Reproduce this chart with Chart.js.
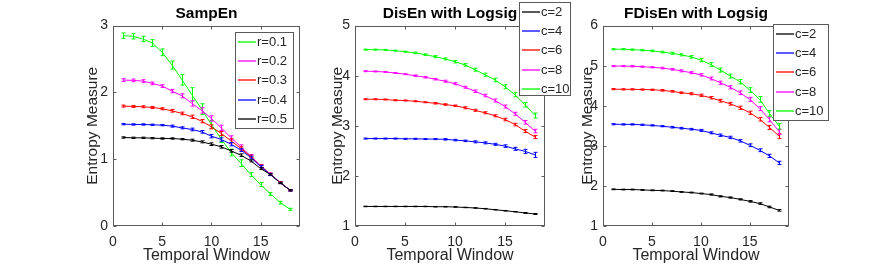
<!DOCTYPE html>
<html><head><meta charset="utf-8">
<script src="https://cdn.jsdelivr.net/npm/chart.js@4/dist/chart.umd.min.js"></script>
<style>
html,body{margin:0;padding:0;background:#fff;width:872px;height:273px;overflow:hidden}
canvas{position:absolute;top:0}
</style></head><body>
<canvas id="c1" width="288" height="273" style="left:60px"></canvas>
<canvas id="c2" width="276" height="273" style="left:300px"></canvas>
<canvas id="c3" width="292" height="273" style="left:540px"></canvas>
<script>
// ---------- data ----------
const windows = [1,2,3,4,5,6,7,8,9,10,11,12,13,14,15,16,17,18];
const xTicks = [0,5,10,15];

const sampLabels = ['r=0.1','r=0.2','r=0.3','r=0.4','r=0.5'];
const sampR01 = [2.85,2.84,2.80,2.74,2.60,2.41,2.19,1.97,1.75,1.52,1.30,1.10,0.94,0.77,0.62,0.48,0.35,0.25];
const sampR02 = [2.185,2.18,2.17,2.135,2.095,2.02,1.95,1.835,1.73,1.61,1.47,1.32,1.185,1.045,0.90,0.775,0.65,0.535];
const sampR03 = [1.795,1.79,1.785,1.775,1.755,1.725,1.685,1.635,1.57,1.485,1.385,1.275,1.16,1.04,0.895,0.775,0.65,0.535];
const sampR04 = [1.525,1.52,1.52,1.515,1.51,1.495,1.47,1.445,1.41,1.345,1.295,1.225,1.135,1.025,0.89,0.77,0.645,0.535];
const sampR05 = [1.325,1.32,1.32,1.315,1.31,1.31,1.30,1.285,1.26,1.225,1.185,1.125,1.06,0.975,0.86,0.77,0.645,0.535];
const sampErrR01 = [0.04,0.04,0.04,0.05,0.05,0.06,0.08,0.10,0.08,0.06,0.05,0.05,0.05,0.03,0.03,0.02,0.02,0.015];
const sampErrR02 = [0.02,0.02,0.02,0.02,0.02,0.025,0.03,0.04,0.04,0.04,0.04,0.03,0.03,0.025,0.02,0.02,0.015,0.01];
const sampErrR03 = [0.015,0.015,0.015,0.015,0.015,0.02,0.02,0.025,0.025,0.03,0.03,0.03,0.025,0.02,0.02,0.015,0.015,0.01];
const sampErrR04 = [0.01,0.01,0.01,0.01,0.01,0.015,0.015,0.02,0.02,0.025,0.025,0.025,0.02,0.02,0.015,0.015,0.01,0.01];
const sampErrR05 = [0.01,0.01,0.01,0.01,0.01,0.01,0.01,0.015,0.015,0.02,0.02,0.02,0.02,0.015,0.015,0.01,0.01,0.01];

const cLabels = ['c=2','c=4','c=6','c=8','c=10'];
const disC2  = [1.39,1.39,1.39,1.39,1.39,1.39,1.39,1.385,1.385,1.38,1.37,1.36,1.345,1.325,1.305,1.285,1.26,1.24];
const disC4  = [2.745,2.745,2.745,2.745,2.74,2.74,2.735,2.735,2.73,2.715,2.70,2.68,2.66,2.63,2.595,2.54,2.49,2.42];
const disC6  = [3.53,3.53,3.525,3.51,3.505,3.49,3.47,3.45,3.425,3.40,3.36,3.31,3.26,3.20,3.125,3.025,2.895,2.775];
const disC8  = [4.09,4.085,4.075,4.055,4.03,4.00,3.97,3.93,3.89,3.84,3.77,3.69,3.605,3.505,3.385,3.24,3.07,2.895];
const disC10 = [4.52,4.52,4.515,4.50,4.48,4.455,4.42,4.38,4.335,4.28,4.215,4.12,4.02,3.915,3.78,3.62,3.42,3.205];
const disErrC2  = [0.005,0.005,0.005,0.005,0.005,0.005,0.005,0.005,0.005,0.005,0.005,0.005,0.005,0.005,0.005,0.005,0.008,0.01];
const disErrC4  = [0.01,0.01,0.01,0.01,0.01,0.01,0.01,0.01,0.015,0.015,0.015,0.02,0.02,0.02,0.025,0.03,0.04,0.05];
const disErrC6  = [0.01,0.01,0.01,0.01,0.01,0.01,0.01,0.015,0.015,0.015,0.02,0.02,0.02,0.02,0.025,0.025,0.03,0.03];
const disErrC8  = [0.01,0.01,0.01,0.01,0.01,0.015,0.015,0.015,0.02,0.02,0.02,0.025,0.025,0.03,0.03,0.03,0.035,0.035];
const disErrC10 = [0.01,0.01,0.01,0.01,0.01,0.015,0.015,0.02,0.02,0.025,0.025,0.03,0.03,0.035,0.04,0.04,0.045,0.05];

const fdisC2  = [1.915,1.91,1.91,1.90,1.89,1.885,1.87,1.85,1.835,1.81,1.785,1.74,1.71,1.665,1.615,1.56,1.475,1.39];
const fdisC4  = [3.54,3.535,3.535,3.525,3.51,3.49,3.465,3.44,3.415,3.385,3.325,3.265,3.21,3.125,3.015,2.89,2.75,2.575];
const fdisC6  = [4.415,4.41,4.41,4.405,4.40,4.385,4.36,4.325,4.30,4.26,4.20,4.125,4.05,3.95,3.825,3.665,3.46,3.24];
const fdisC8  = [4.99,4.99,4.985,4.975,4.96,4.94,4.91,4.87,4.825,4.77,4.68,4.575,4.46,4.325,4.16,3.93,3.66,3.35];
const fdisC10 = [5.41,5.41,5.40,5.385,5.37,5.34,5.31,5.27,5.22,5.14,5.03,4.89,4.74,4.60,4.39,4.16,3.81,3.49];
const fdisErrC2  = [0.01,0.01,0.01,0.01,0.01,0.01,0.01,0.01,0.01,0.01,0.015,0.015,0.015,0.015,0.02,0.02,0.02,0.02];
const fdisErrC4  = [0.015,0.015,0.015,0.015,0.015,0.015,0.02,0.02,0.02,0.025,0.025,0.03,0.03,0.03,0.035,0.035,0.04,0.04];
const fdisErrC6  = [0.015,0.015,0.015,0.015,0.015,0.02,0.02,0.02,0.025,0.03,0.03,0.035,0.035,0.04,0.04,0.045,0.05,0.06];
const fdisErrC8  = [0.015,0.015,0.015,0.015,0.015,0.02,0.02,0.025,0.025,0.03,0.035,0.04,0.04,0.045,0.05,0.05,0.06,0.06];
const fdisErrC10 = [0.015,0.015,0.015,0.015,0.02,0.02,0.025,0.025,0.03,0.04,0.045,0.05,0.05,0.055,0.06,0.07,0.07,0.07];

// ---------- styling ----------
const COLORS = {g:'#00ff00', m:'#ff00ff', r:'#ff0000', b:'#0000ff', k:'#000000'};
const NARROW = '"Liberation Sans Narrow", "Liberation Sans", Arial, sans-serif';
const REG = '"Liberation Sans", Arial, sans-serif';

function mkDataset(label, values, errs, color, order){
  return {label, data: windows.map((w,i)=>({x:w, y:values[i]})), errors: errs,
    borderColor: color, backgroundColor: color, borderWidth: 1, pointRadius: 0,
    tension: 0, fill: false, order};
}

// error bars drawn through the scales
const errorBarPlugin = {
  id: 'errorBars',
  afterDatasetsDraw(chart){
    const ctx = chart.ctx, ys = chart.scales.y, xs = chart.scales.x;
    chart.data.datasets.forEach((ds) => {
      if (!ds.errors) return;
      ctx.save();
      ctx.strokeStyle = ds.borderColor; ctx.lineWidth = 1;
      ds.data.forEach((p, i) => {
        const e = ds.errors[i];
        const px = Math.round(xs.getPixelForValue(p.x)) + 0.5;
        const y1 = ys.getPixelForValue(p.y - e), y2 = ys.getPixelForValue(p.y + e);
        ctx.beginPath();
        ctx.moveTo(px, y1); ctx.lineTo(px, y2);
        ctx.moveTo(px-2, y1); ctx.lineTo(px+2, y1);
        ctx.moveTo(px-2, y2); ctx.lineTo(px+2, y2);
        ctx.stroke();
      });
      ctx.restore();
    });
  }
};

// MATLAB-like box with inward ticks
const boxPlugin = {
  id: 'matBox',
  afterDraw(chart){
    const ctx = chart.ctx, a = chart.chartArea, xs = chart.scales.x, ys = chart.scales.y;
    ctx.save();
    ctx.strokeStyle = '#5a5a5a'; ctx.lineWidth = 1;
    const L = Math.round(a.left)+0.5, R = Math.round(a.right)-0.5, T = Math.round(a.top)+0.5, B = Math.round(a.bottom)-0.5;
    ctx.strokeRect(L, T, R-L, B-T);
    ctx.beginPath();
    xs.ticks.forEach(t => {
      const px = Math.round(xs.getPixelForValue(t.value))+0.5;
      ctx.moveTo(px, B); ctx.lineTo(px, B-3);
      ctx.moveTo(px, T); ctx.lineTo(px, T+3);
    });
    ys.ticks.forEach(t => {
      const py = Math.round(ys.getPixelForValue(t.value))+0.5;
      ctx.moveTo(L, py); ctx.lineTo(L+3, py);
      ctx.moveTo(R, py); ctx.lineTo(R-3, py);
    });
    ctx.stroke();
    ctx.restore();
  }
};

// boxed legend
const boxLegendPlugin = {
  id: 'boxLegend',
  afterDraw(chart, args, opts){
    const ctx = chart.ctx;
    const left = opts.left, top = opts.top, w = opts.width, h = opts.height;
    ctx.save();
    ctx.fillStyle = '#ffffff';
    ctx.fillRect(left, top, w, h);
    ctx.strokeStyle = '#5a5a5a'; ctx.lineWidth = 1;
    ctx.strokeRect(Math.round(left)+0.5, Math.round(top)+0.5, w, h);
    ctx.font = '13px ' + NARROW;
    ctx.textBaseline = 'middle';
    chart.data.datasets.forEach((ds, i) => {
      const y = Math.round(top + 10 + i*19.2);
      ctx.strokeStyle = ds.borderColor; ctx.lineWidth = 1.3;
      ctx.beginPath(); ctx.moveTo(left+3, y); ctx.lineTo(left+21, y); ctx.stroke();
      ctx.fillStyle = '#262626';
      ctx.fillText(ds.label, left+22, y+0.5);
    });
    ctx.restore();
  }
};

function mkChart(id, title, datasets, yMin, yMax, yWidth, padRight, yTitlePad, legend){
  return new Chart(document.getElementById(id), {
    type: 'line',
    data: { datasets },
    plugins: [errorBarPlugin, boxPlugin, boxLegendPlugin],
    options: {
      responsive: false, animation: false, devicePixelRatio: 1,
      layout: { padding: { left: 0, right: padRight, top: 0, bottom: 0 } },
      plugins: {
        legend: { display: false },
        tooltip: { enabled: false },
        title: { display: true, fullSize: false, text: title, color: '#000',
          font: { family: NARROW, size: 15.5, weight: 'bold' }, padding: { top: 4, bottom: 3 } },
        boxLegend: legend
      },
      scales: {
        x: { type: 'linear', min: 0, max: 19,
          afterFit(s){ s.height = 47; },
          grid: { display: false, drawTicks: false }, border: { display: false },
          ticks: { stepSize: 5, includeBounds: false, padding: 8, color: '#262626',
            font: { family: NARROW, size: 14 } },
          title: { display: true, text: 'Temporal Window', color: '#262626',
            font: { family: NARROW, size: 16 }, padding: { top: 0, bottom: 8 } } },
        y: { type: 'linear', min: yMin, max: yMax,
          afterFit(s){ s.width = yWidth; },
          grid: { display: false, drawTicks: false }, border: { display: false },
          ticks: { stepSize: 1, padding: 5, color: '#262626',
            font: { family: NARROW, size: 14 } },
          title: { display: true, text: 'Entropy Measure', color: '#262626',
            font: { family: REG, size: 15.5 }, padding: { top: yTitlePad, bottom: 0 } } }
      }
    }
  });
}

// canvas 1: left 60 -> chart area 113..300
mkChart('c1', 'SampEn', [
  mkDataset(sampLabels[0], sampR01, sampErrR01, COLORS.g, 4),
  mkDataset(sampLabels[1], sampR02, sampErrR02, COLORS.m, 3),
  mkDataset(sampLabels[2], sampR03, sampErrR03, COLORS.r, 2),
  mkDataset(sampLabels[3], sampR04, sampErrR04, COLORS.b, 1),
  mkDataset(sampLabels[4], sampR05, sampErrR05, COLORS.k, 0)
], 0, 3, 53, 48, 23, { left: 175, top: 32, width: 58, height: 96 });

// canvas 2: left 300 -> chart area 355..545
mkChart('c2', 'DisEn with Logsig', [
  mkDataset(cLabels[0], disC2, disErrC2, COLORS.k, 4),
  mkDataset(cLabels[1], disC4, disErrC4, COLORS.b, 3),
  mkDataset(cLabels[2], disC6, disErrC6, COLORS.r, 2),
  mkDataset(cLabels[3], disC8, disErrC8, COLORS.m, 1),
  mkDataset(cLabels[4], disC10, disErrC10, COLORS.g, 0)
], 1, 5, 55, 31, 28, { left: 219, top: 2, width: 51, height: 93 });

// canvas 3: left 540 -> chart area 603..789
mkChart('c3', 'FDisEn with Logsig', [
  mkDataset(cLabels[0], fdisC2, fdisErrC2, COLORS.k, 4),
  mkDataset(cLabels[1], fdisC4, fdisErrC4, COLORS.b, 3),
  mkDataset(cLabels[2], fdisC6, fdisErrC6, COLORS.r, 2),
  mkDataset(cLabels[3], fdisC8, fdisErrC8, COLORS.m, 1),
  mkDataset(cLabels[4], fdisC10, fdisErrC10, COLORS.g, 0)
], 1, 6, 63, 43, 38, { left: 233, top: 24, width: 55, height: 96 });
</script>
</body></html>
